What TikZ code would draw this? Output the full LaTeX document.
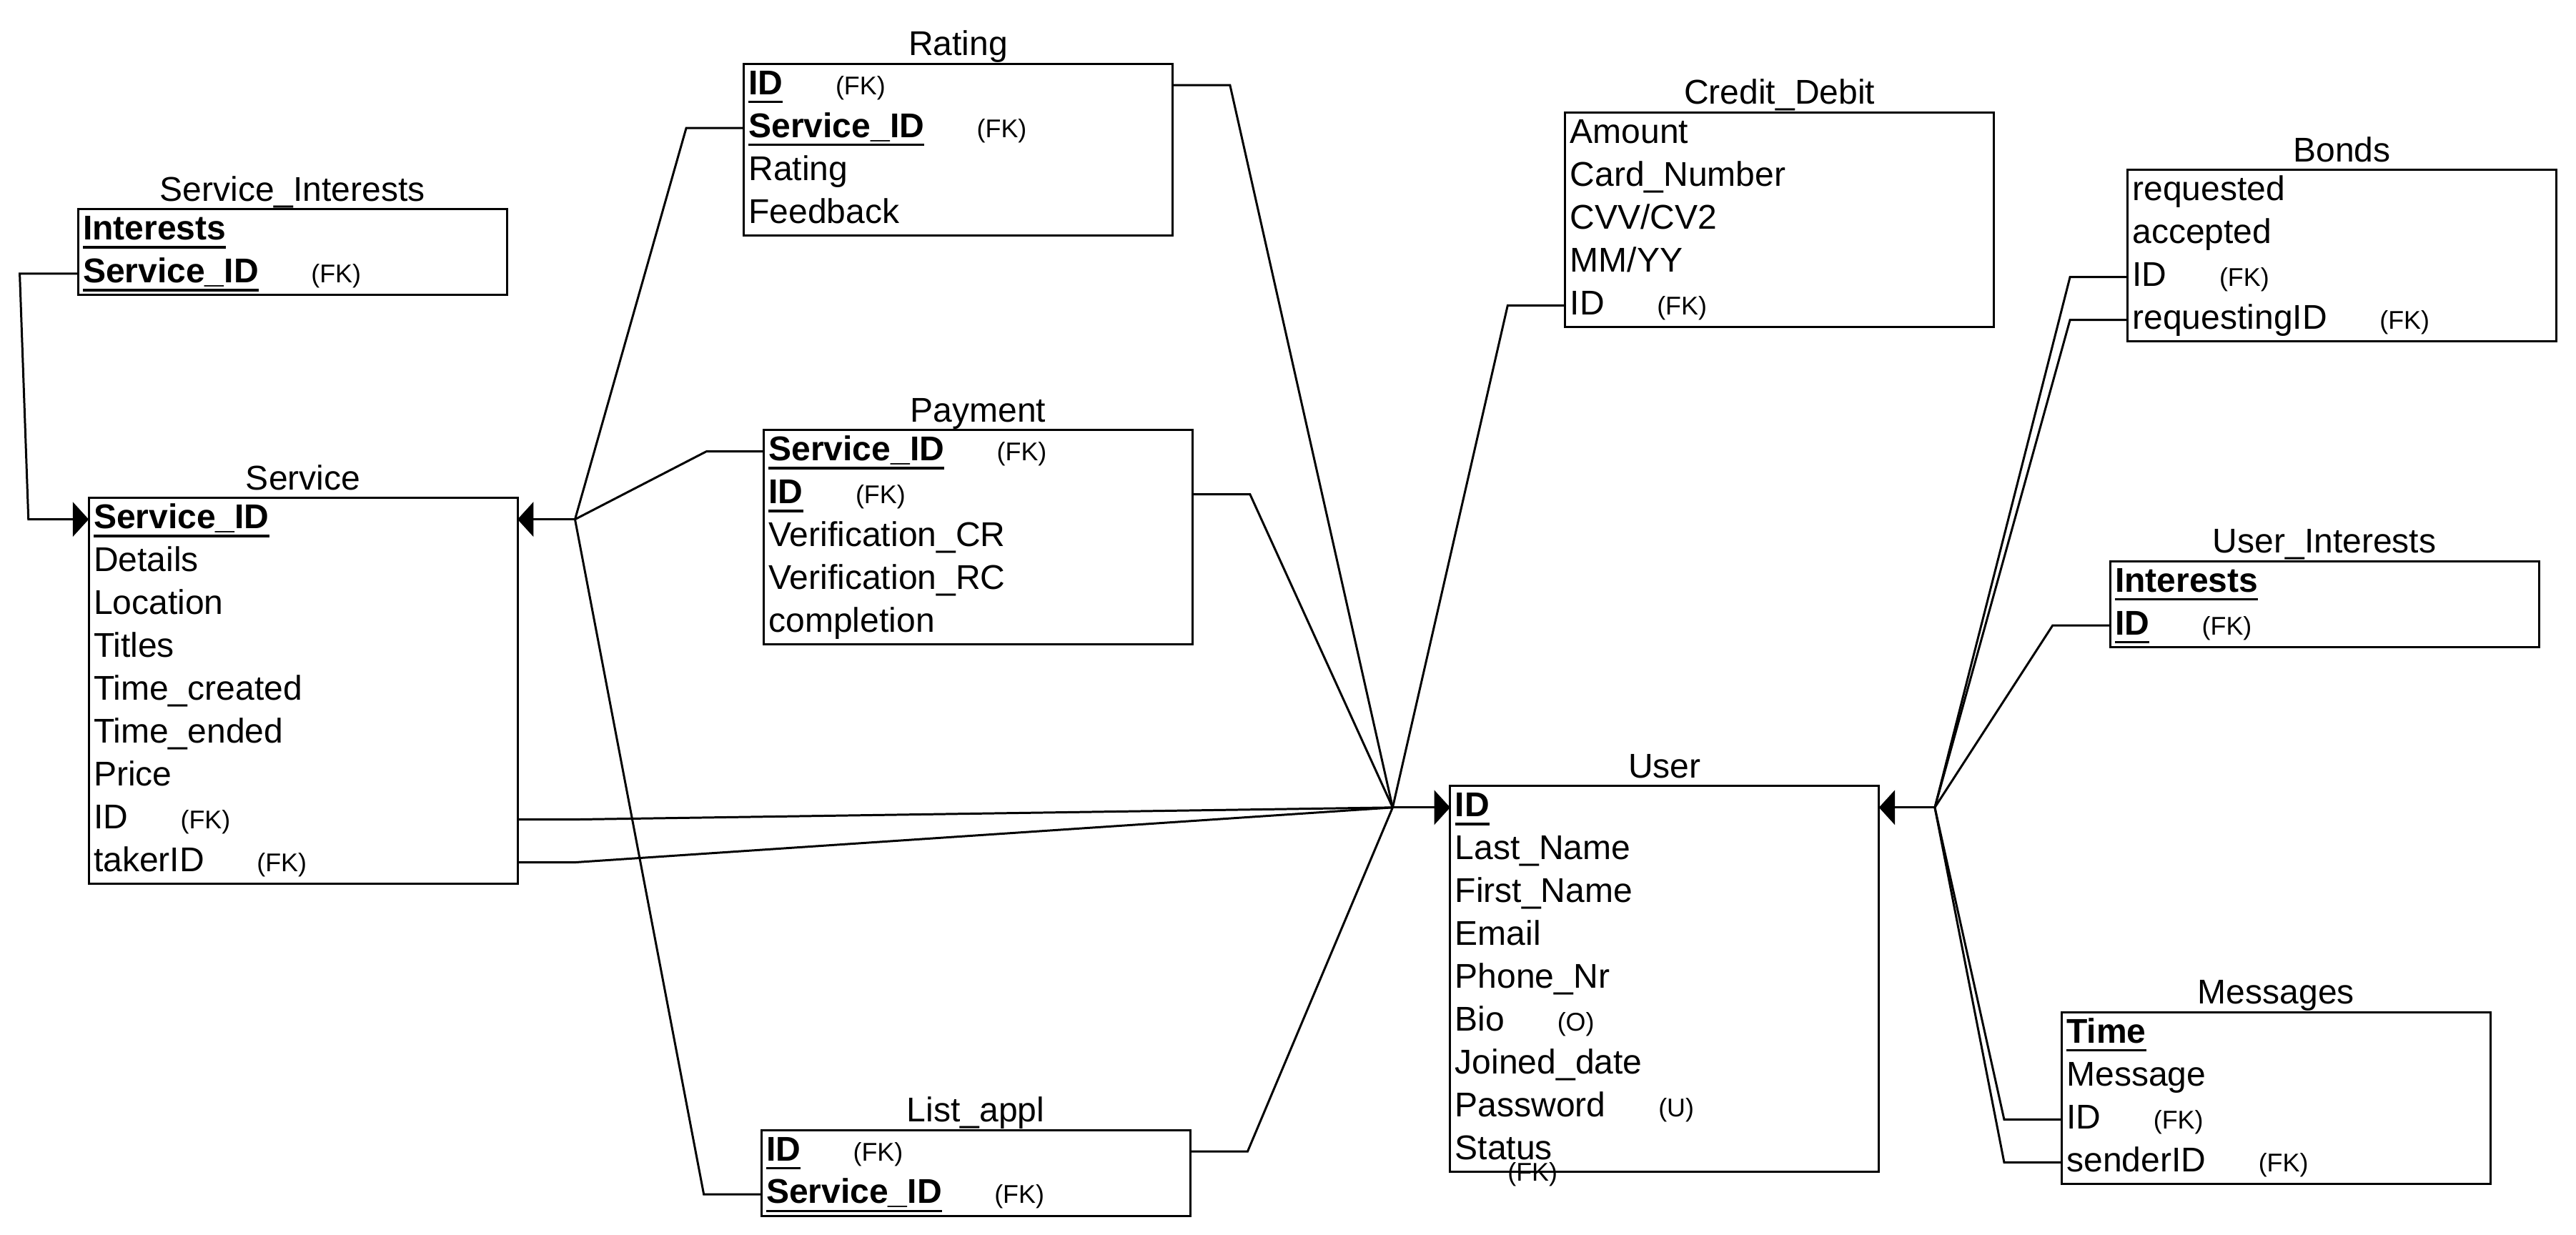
\documentclass[tikz,border=0pt]{standalone}
\usepackage{fontspec}
\setmainfont{Liberation Sans}
\usetikzlibrary{positioning}
\usetikzlibrary{arrows.meta}

\newcommand{\rowfont}{\fontsize{20.9}{24}\selectfont}
\newcommand{\fk}[1]{\hspace{32pt}{\fontsize{15.6}{17}\selectfont(#1)}}
\newcommand{\pk}[1]{\setbox0\hbox{\bfseries #1}\rlap{\vrule width\wd0 height -3.8pt depth 5.3pt}\box0}

\tikzset{
  field/.style={anchor=north west, text width=255pt, inner xsep=3pt, inner ysep=0pt, outer sep=0pt,
    minimum height=26.1pt, text height=15.5pt, text depth=4.3pt, align=left, font=\rowfont},
  tname/.style={anchor=base, inner sep=0pt, font=\rowfont},
  tablebox/.style={line width=1.3pt},
  relline/.style={line width=1.3pt},
  onearrow/.style={-{Triangle[length=9.7pt,width=21pt]}}
}

\begin{document}
\begin{tikzpicture}[x=1pt,y=-1pt]
\useasboundingbox (0,0) rectangle (1568,751.8);
% Service_Interests
\node[field] (svi1) at (47.5,127.4) {\pk{Interests}};
\node[field, below=0pt of svi1] (svi2) {\pk{Service\_ID}\fk{FK}};
\draw[tablebox] (svi1.north west) rectangle (svi2.south east);
\node[tname] (svit) at ([yshift=5pt]svi1.north) {Service\_Interests};
% Service
\node[field] (svc1) at (54,303.1) {\pk{Service\_ID}};
\node[field, below=0pt of svc1] (svc2) {Details};
\node[field, below=0pt of svc2] (svc3) {Location};
\node[field, below=0pt of svc3] (svc4) {Titles};
\node[field, below=0pt of svc4] (svc5) {Time\_created};
\node[field, below=0pt of svc5] (svc6) {Time\_ended};
\node[field, below=0pt of svc6] (svc7) {Price};
\node[field, below=0pt of svc7] (svc8) {ID\fk{FK}};
\node[field, below=0pt of svc8] (svc9) {takerID\fk{FK}};
\draw[tablebox] (svc1.north west) rectangle (svc9.south east);
\node[tname] (svct) at ([yshift=5pt]svc1.north) {Service};
% Rating
\node[field] (rat1) at (452.7,38.8) {\pk{ID}\fk{FK}};
\node[field, below=0pt of rat1] (rat2) {\pk{Service\_ID}\fk{FK}};
\node[field, below=0pt of rat2] (rat3) {Rating};
\node[field, below=0pt of rat3] (rat4) {Feedback};
\draw[tablebox] (rat1.north west) rectangle (rat4.south east);
\node[tname] (ratt) at ([yshift=5pt]rat1.north) {Rating};
% Payment
\node[field] (pay1) at (464.9,261.8) {\pk{Service\_ID}\fk{FK}};
\node[field, below=0pt of pay1] (pay2) {\pk{ID}\fk{FK}};
\node[field, below=0pt of pay2] (pay3) {Verification\_CR};
\node[field, below=0pt of pay3] (pay4) {Verification\_RC};
\node[field, below=0pt of pay4] (pay5) {completion};
\draw[tablebox] (pay1.north west) rectangle (pay5.south east);
\node[tname] (payt) at ([yshift=5pt]pay1.north) {Payment};
% List_appl
\node[field] (lst1) at (463.4,687.9) {\pk{ID}\fk{FK}};
\node[field, below=0pt of lst1] (lst2) {\pk{Service\_ID}\fk{FK}};
\draw[tablebox] (lst1.north west) rectangle (lst2.south east);
\node[tname] (lstt) at ([yshift=5pt]lst1.north) {List\_appl};
% Credit_Debit
\node[field] (crd1) at (952.7,68.5) {Amount};
\node[field, below=0pt of crd1] (crd2) {Card\_Number};
\node[field, below=0pt of crd2] (crd3) {CVV/CV2};
\node[field, below=0pt of crd3] (crd4) {MM/YY};
\node[field, below=0pt of crd4] (crd5) {ID\fk{FK}};
\draw[tablebox] (crd1.north west) rectangle (crd5.south east);
\node[tname] (crdt) at ([yshift=5pt]crd1.north) {Credit\_Debit};
% User
\node[field] (usr1) at (882.7,478.5) {\pk{ID}};
\node[field, below=0pt of usr1] (usr2) {Last\_Name};
\node[field, below=0pt of usr2] (usr3) {First\_Name};
\node[field, below=0pt of usr3] (usr4) {Email};
\node[field, below=0pt of usr4] (usr5) {Phone\_Nr};
\node[field, below=0pt of usr5] (usr6) {Bio\fk{O}};
\node[field, below=0pt of usr6] (usr7) {Joined\_date};
\node[field, below=0pt of usr7] (usr8) {Password\fk{U}};
\node[field, below=0pt of usr8] (usr9) {\rlap{Status}\raisebox{-13pt}{\fk{FK}}};
\draw[tablebox] (usr1.north west) rectangle (usr9.south east);
\node[tname] (usrt) at ([yshift=5pt]usr1.north) {User};
% Bonds
\node[field] (bnd1) at (1295,103.4) {requested};
\node[field, below=0pt of bnd1] (bnd2) {accepted};
\node[field, below=0pt of bnd2] (bnd3) {ID\fk{FK}};
\node[field, below=0pt of bnd3] (bnd4) {requestingID\fk{FK}};
\draw[tablebox] (bnd1.north west) rectangle (bnd4.south east);
\node[tname] (bndt) at ([yshift=5pt]bnd1.north) {Bonds};
% User_Interests
\node[field] (uin1) at (1284.4,341.6) {\pk{Interests}};
\node[field, below=0pt of uin1] (uin2) {\pk{ID}\fk{FK}};
\draw[tablebox] (uin1.north west) rectangle (uin2.south east);
\node[tname] (uint) at ([yshift=5pt]uin1.north) {User\_Interests};
% Messages
\node[field] (msg1) at (1254.9,616.2) {\pk{Time}};
\node[field, below=0pt of msg1] (msg2) {Message};
\node[field, below=0pt of msg2] (msg3) {ID\fk{FK}};
\node[field, below=0pt of msg3] (msg4) {senderID\fk{FK}};
\draw[tablebox] (msg1.north west) rectangle (msg4.south east);
\node[tname] (msgt) at ([yshift=5pt]msg1.north) {Messages};

% the three meeting points
\coordinate (jsvc) at ([xshift=35pt]svc1.east);
\coordinate (jusrl) at ([xshift=-35pt]usr1.west);
\coordinate (jusrr) at ([xshift=34pt]usr1.east);

% into Service
\draw[relline, onearrow] (svi2.west) -- ++(-35.5,0) -- ([xshift=-36.7pt]svc1.west) -- (svc1.west);
\draw[relline] (rat2.west) -- ++(-35,0) -- (jsvc);
\draw[relline] (pay1.west) -- ++(-35,0) -- (jsvc);
\draw[relline] (lst2.west) -- ++(-35,0) -- (jsvc);
\draw[relline, onearrow] (jsvc) -- (svc1.east);
% into User, left side
\draw[relline] (rat1.east) -- ++(35,0) -- (jusrl);
\draw[relline] (pay2.east) -- ++(35,0) -- (jusrl);
\draw[relline] (svc8.east) -- ++(35,0) -- (jusrl);
\draw[relline] (svc9.east) -- ++(35,0) -- (jusrl);
\draw[relline] (lst1.east) -- ++(35,0) -- (jusrl);
\draw[relline] (crd5.west) -- ++(-35,0) -- (jusrl);
\draw[relline, onearrow] (jusrl) -- (usr1.west);
% into User, right side
\draw[relline] (bnd3.west) -- ++(-35,0) -- (jusrr);
\draw[relline] (bnd4.west) -- ++(-35,0) -- (jusrr);
\draw[relline] (uin2.west) -- ++(-35,0) -- (jusrr);
\draw[relline] (msg3.west) -- ++(-35,0) -- (jusrr);
\draw[relline] (msg4.west) -- ++(-35,0) -- (jusrr);
\draw[relline, onearrow] (jusrr) -- (usr1.east);
\end{tikzpicture}
\end{document}
